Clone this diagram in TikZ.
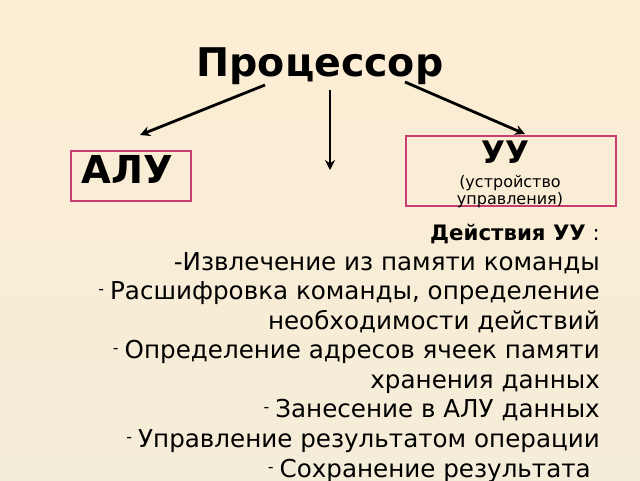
\documentclass[tikz,border=0pt]{standalone}
\usepackage{fontspec}
\setmainfont{DejaVu Sans}
\usetikzlibrary{arrows.meta}
\definecolor{bgtop}{RGB}{253,237,211}
\definecolor{bgbot}{RGB}{244,237,217}
\definecolor{boxpink}{RGB}{200,62,112}
\newcommand{\bul}{\raisebox{5pt}{\fontsize{16}{16}\selectfont -}\hspace{6pt}}
\tikzset{
  pinkbox/.style={draw=boxpink,line width=2.2pt,inner sep=0pt},
  conn/.style={line width=2.8pt,-{Stealth[length=10pt,width=10pt]}},
  item/.style={anchor=base east,inner sep=0pt,font=\fontsize{24.6}{27}\selectfont}
}
\begin{document}
\begin{tikzpicture}[x=1pt,y=-1pt]
\shade[top color=bgtop,bottom color=bgbot] (0,0) rectangle (640,480);
\useasboundingbox (0,0) rectangle (640,480);
\node[inner sep=0pt,anchor=base,font=\fontsize{39.5}{44}\selectfont\bfseries] (title) at (320,76) {Процессор};
\node[pinkbox,minimum width=120pt,minimum height=50pt,anchor=north west] (alu) at (70,150) {};
\node[anchor=base,inner sep=0pt,font=\fontsize{38.5}{40}\selectfont\bfseries] (alut) at (127,183) {АЛУ};
\node[pinkbox,minimum width=210pt,minimum height=70pt,anchor=north west] (uu) at (405,135) {};
\node[anchor=base,inner sep=0pt,font=\fontsize{31}{34}\selectfont\bfseries] (uut) at (505,163) {УУ};
\node[anchor=base,inner sep=0pt,font=\fontsize{16}{18}\selectfont] (uus1) at (510,187) {(устройство};
\node[anchor=base,inner sep=0pt,font=\fontsize{16}{18}\selectfont] (uus2) at (510,204) {управления)};
\coordinate (s1) at (265,85);
\coordinate (e1) at (140,135);
\coordinate (s2) at (330,90);
\coordinate (e2) at (330,170);
\coordinate (s3) at (405,82);
\coordinate (e3) at (525,134);
\draw[conn] (s1) -- (e1);
\draw[conn] (s2) -- (e2);
\draw[conn] (s3) -- (e3);
\node[anchor=base east,inner sep=0pt,font=\fontsize{21.3}{23}\selectfont] (head) at (600,240) {\textbf{Действия УУ} :};
\node[item] (l1) at (600,270) {-Извлечение из памяти команды};
\node[item] (l2) at (600,299.6) {\bul Расшифровка команды, определение};
\node[item] (l3) at (600,329.1) {необходимости действий};
\node[item] (l4) at (600,358.7) {\bul Определение адресов ячеек памяти};
\node[item] (l5) at (600,388.3) {хранения данных};
\node[item] (l6) at (600,417.9) {\bul Занесение в АЛУ данных};
\node[item] (l7) at (600,447.4) {\bul Управление результатом операции};
\node[item] (l8) at (591,477) {\bul Сохранение результата};
\end{tikzpicture}
\end{document}
